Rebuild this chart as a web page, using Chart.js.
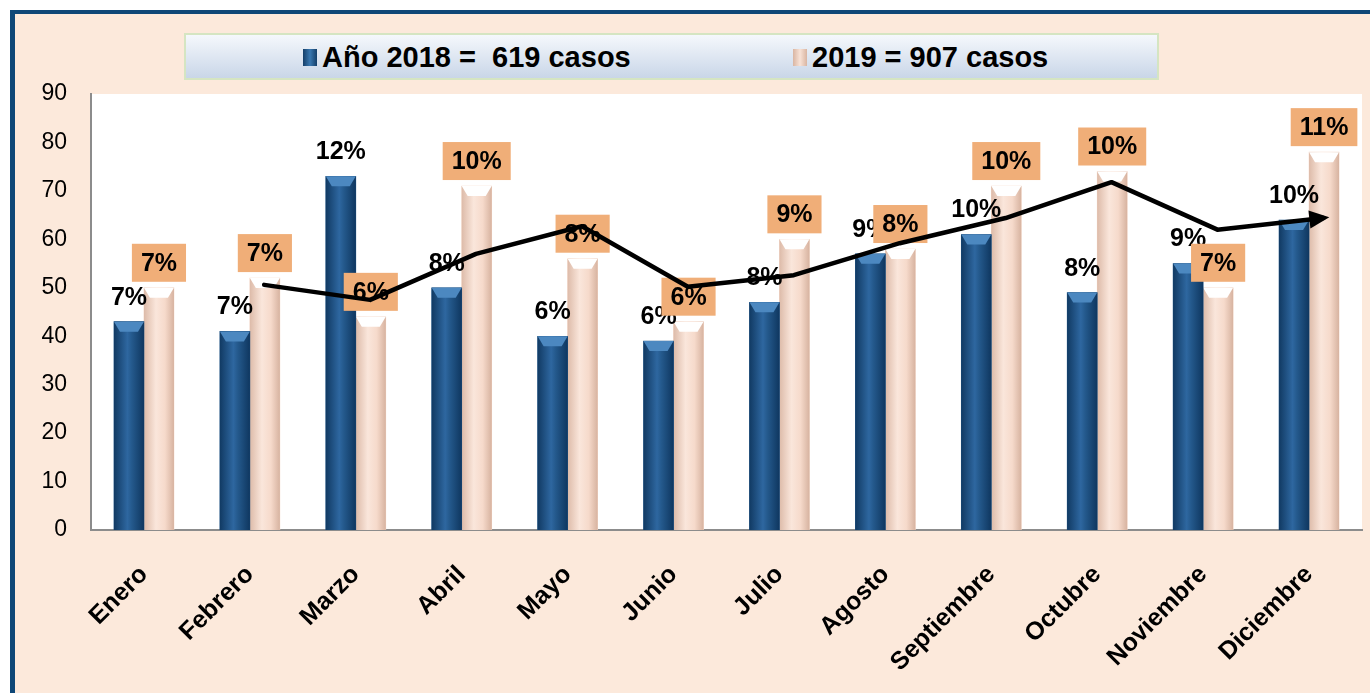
<!DOCTYPE html>
<html>
<head>
<meta charset="utf-8">
<script src="https://cdn.jsdelivr.net/npm/chart.js@4/dist/chart.umd.min.js"></script>
<style>
  html, body { margin: 0; padding: 0; background: #ffffff; }
  body { width: 1370px; height: 693px; position: relative; overflow: hidden; font-family: "Liberation Sans", Arial, sans-serif; }
  #frame { position: absolute; left: 10px; top: 10px; width: 1400px; height: 679px;
    background: #FCE9DB; border-left: 5px solid #0E4777; border-top: 4px solid #0E4777; border-bottom: 2px solid #557DA6; }
  #legend { position: absolute; left: 184px; top: 33px; width: 971px; height: 43px;
    background: linear-gradient(#F5F8FC, #C9D6E8); border: 2px solid #D5E5C2; }
  .item { position: absolute; top: 0; height: 43px; line-height: 45px; font-weight: bold; font-size: 29px; color: #000; white-space: pre; }
  .mk { display: inline-block; width: 14px; height: 17px; margin-right: 5px; vertical-align: 1px; }
  #c { position: absolute; left: 0; top: 0; }
</style>
</head>
<body>
<div id="frame"></div>
<div id="legend"></div>
<canvas id="c" width="1370" height="693"></canvas>
<script>
const months = ['Enero','Febrero','Marzo','Abril','Mayo','Junio','Julio','Agosto','Septiembre','Octubre','Noviembre','Diciembre'];
const seriesNames = ['Año 2018 =  619 casos', '2019 = 907 casos'];
const casos2018 = [43, 41, 73, 50, 40, 39, 47, 57, 61, 49, 55, 64];
const casos2019 = [50, 52, 44, 71, 56, 43, 60, 58, 71, 74, 50, 78];
const pct2018 = ['7%','7%','12%','8%','6%','6%','8%','9%','10%','8%','9%','10%'];
const pct2019 = ['7%','7%','6%','10%','8%','6%','9%','8%','10%','10%','7%','11%'];
const tendencia = [null, 50.6, 47.5, 57, 62.7, 50.2, 52.6, 59.2, 64.4, 71.8, 62, 64.4];
const yMin = 0, yMax = 90, yStep = 10;

const legendEl = document.getElementById('legend');
const legendColors = ['linear-gradient(90deg,#153F69,#3A78B0,#153F69)', 'linear-gradient(90deg,#D9B5A2,#F8E2D6,#D9B5A2)'];
const legendLefts = [303 - 186, 793 - 186];
seriesNames.forEach((n, i) => {
  const d = document.createElement('div');
  d.className = 'item';
  d.style.left = legendLefts[i] + 'px';
  d.innerHTML = '<span class="mk" style="background:' + legendColors[i] + '"></span>';
  d.appendChild(document.createTextNode(n));
  legendEl.appendChild(d);
});

// layout offsets (in category units) for the two bar groups and the trend line
const BAR_SHIFT = 0.1416;
const LINE_SHIFT = 0.135;

const plotBg = {
  id: 'plotBg',
  beforeDraw(chart) {
    const a = chart.chartArea, ctx = chart.ctx;
    ctx.save();
    ctx.fillStyle = '#ffffff';
    ctx.fillRect(a.left, a.top, a.right - a.left, a.bottom - a.top);
    ctx.restore();
  }
};

const barShade = {
  id: 'barShade',
  afterDatasetDraw(chart, args) {
    if (args.index > 1) return;
    const ctx = chart.ctx;
    const meta = args.meta;
    ctx.save();
    meta.data.forEach(el => {
      const p = el.getProps(['x','y','base','width'], true);
      const l = p.x - p.width / 2, r = p.x + p.width / 2;
      const g = ctx.createLinearGradient(l, 0, r, 0);
      if (args.index === 0) {
        g.addColorStop(0, '#113A63'); g.addColorStop(0.45, '#2E67A0'); g.addColorStop(0.6, '#24598C'); g.addColorStop(1, '#0F3760');
      } else {
        g.addColorStop(0, '#DDBBA9'); g.addColorStop(0.4, '#FAE6DB'); g.addColorStop(0.7, '#F6DACB'); g.addColorStop(1, '#D7B3A0');
      }
      ctx.fillStyle = g;
      ctx.fillRect(l, p.y, p.width, p.base - p.y);
      ctx.beginPath();
      ctx.moveTo(l, p.y); ctx.lineTo(r, p.y); ctx.lineTo(r - 6, p.y + 10); ctx.lineTo(l + 6, p.y + 10); ctx.closePath();
      ctx.fillStyle = args.index === 0 ? '#4C88C0' : '#FFFFFF';
      ctx.fill();
    });
    ctx.restore();
  }
};

const labelsPlugin = {
  id: 'labelsPlugin',
  beforeDatasetDraw(chart, args) {
    if (args.index !== 2) return;
    const ctx = chart.ctx;
    ctx.save();
    ctx.textAlign = 'center';
    ctx.textBaseline = 'middle';
    ctx.font = 'bold 25px "Liberation Sans", Arial, sans-serif';
    const m0 = chart.getDatasetMeta(0), m1 = chart.getDatasetMeta(1);
    m0.data.forEach((el, i) => {
      ctx.fillStyle = '#000';
      ctx.fillText(pct2018[i], el.x, el.y - 24);
    });
    m1.data.forEach((el, i) => {
      const w = ctx.measureText(pct2019[i]).width + 18;
      const h = 38;
      const cy = el.y - 25;
      ctx.fillStyle = '#F0AE78';
      ctx.fillRect(el.x - w / 2, cy - h / 2, w, h);
      ctx.fillStyle = '#000';
      ctx.fillText(pct2019[i], el.x, cy + 1);
    });
    ctx.restore();
  },
  afterDatasetDraw(chart, args) {
    if (args.index !== 2) return;
    const pts = args.meta.data.filter(p => !p.skip && isFinite(p.y));
    const a = pts[pts.length - 2], b = pts[pts.length - 1];
    const ang = Math.atan2(b.y - a.y, b.x - a.x);
    const ctx = chart.ctx;
    const tipX = b.x + 6 * Math.cos(ang), tipY = b.y + 6 * Math.sin(ang);
    ctx.save();
    ctx.translate(tipX, tipY);
    ctx.rotate(ang);
    ctx.beginPath();
    ctx.moveTo(0, 0); ctx.lineTo(-20, -9); ctx.lineTo(-20, 9); ctx.closePath();
    ctx.fillStyle = '#000';
    ctx.fill();
    ctx.restore();
  }
};

new Chart(document.getElementById('c'), {
  type: 'bar',
  data: {
    labels: months,
    datasets: [
      { type: 'bar', label: seriesNames[0], xAxisID: 'xl', grouped: false,
        data: casos2018.map((v, i) => ({ x: i - BAR_SHIFT, y: v })),
        backgroundColor: '#1F5689', borderWidth: 0, order: 1, barThickness: 30 },
      { type: 'bar', label: seriesNames[1], xAxisID: 'xl', grouped: false,
        data: casos2019.map((v, i) => ({ x: i + BAR_SHIFT, y: v })),
        backgroundColor: '#F6DACB', borderWidth: 0, order: 1, barThickness: 30 },
      { type: 'line', label: 'tendencia', xAxisID: 'xl',
        data: tendencia.map((v, i) => ({ x: i + LINE_SHIFT, y: v })),
        borderColor: '#000', borderWidth: 4.5, pointRadius: 0, tension: 0, fill: false, order: 0,
        borderCapStyle: 'round', borderJoinStyle: 'round', spanGaps: false }
    ]
  },
  options: {
    responsive: false,
    animation: false,
    events: [],
    layout: { padding: { left: 0, right: 8, top: 94, bottom: 0 } },
    plugins: { legend: { display: false }, tooltip: { enabled: false } },
    scales: {
      x: {
        type: 'category',
        offset: true,
        grid: { display: false, drawTicks: false, offset: true },
        border: { display: true, color: '#8C8C8C', width: 2 },
        ticks: { color: '#000', font: { family: '"Liberation Sans", Arial, sans-serif', size: 25, weight: 'bold' },
          minRotation: 45, maxRotation: 45, padding: 30, autoSkip: false },
        afterFit(s) { s.height = 163; }
      },
      xl: { type: 'linear', display: false, offset: false, min: -0.5, max: 11.5 },
      y: {
        min: yMin, max: yMax,
        grid: { display: false, drawTicks: false },
        border: { display: true, color: '#8C8C8C', width: 2 },
        ticks: { stepSize: yStep, color: '#000', padding: 24, font: { family: '"Liberation Sans", Arial, sans-serif', size: 23 } },
        afterFit(s) { s.width = 91; }
      }
    }
  },
  plugins: [plotBg, barShade, labelsPlugin]
});
</script>
</body>
</html>
